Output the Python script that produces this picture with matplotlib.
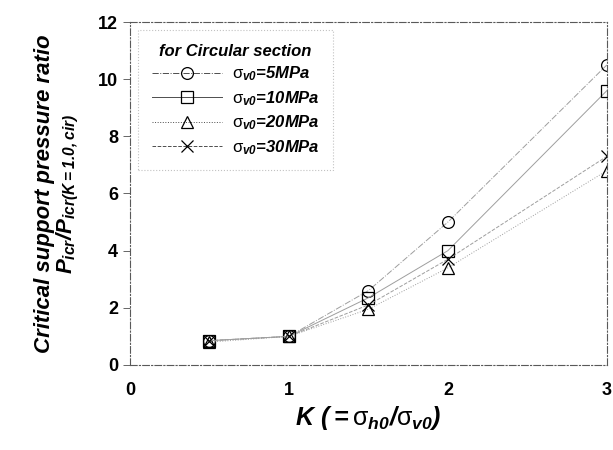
import matplotlib.pyplot as plt

plt.rcParams['font.family'] = ['Liberation Sans', 'DejaVu Sans']
plt.rcParams['mathtext.fontset'] = 'custom'
plt.rcParams['mathtext.rm'] = 'Liberation Sans:bold:italic'
plt.rcParams['mathtext.it'] = 'Liberation Sans:bold:italic'
plt.rcParams['mathtext.sf'] = 'Liberation Sans'

# data
k_values = [0.5, 1.0, 1.5, 2.0, 3.0]
ratio_5mpa = [0.85, 1.0, 2.6, 5.0, 10.5]
ratio_10mpa = [0.85, 1.0, 2.35, 4.0, 9.6]
ratio_20mpa = [0.8, 1.0, 1.95, 3.4, 6.8]
ratio_30mpa = [0.85, 1.0, 2.1, 3.7, 7.3]

series = [
    (ratio_5mpa, 'o', '-.', r'$\mathsf{\sigma}_{v0}$=5MPa'),
    (ratio_10mpa, 's', '-', r'$\mathsf{\sigma}_{v0}$=10MPa'),
    (ratio_20mpa, '^', ':', r'$\mathsf{\sigma}_{v0}$=20MPa'),
    (ratio_30mpa, 'x', '--', r'$\mathsf{\sigma}_{v0}$=30MPa'),
]

fig = plt.figure(figsize=(6.13, 4.5), dpi=100)
ax = fig.add_axes([0.212, 0.189, 0.778, 0.762])

for vals, mk, ls, lab in series:
    ax.plot(k_values, vals, linestyle=ls, color='0.62', lw=0.7,
            marker=mk, markersize=8.5, markerfacecolor='none',
            markeredgecolor='black', markeredgewidth=0.9, label=lab)

ax.set_xlim(0, 3)
ax.set_ylim(0, 12)
ax.set_xticks([0, 1, 2, 3])
ax.set_yticks([0, 2, 4, 6, 8, 10, 12])
ax.tick_params(axis='both', labelsize=13, direction='out', length=5, width=0.7, color='0.4')
ax.tick_params(axis='x', length=0, pad=12)
for lbl in ax.get_xticklabels() + ax.get_yticklabels():
    lbl.set_fontweight('bold')
for s in ax.spines.values():
    s.set_linewidth(0.8)
    s.set_color('0.35')
    s.set_linestyle((0, (6, 2, 1, 2)))

ax.set_xlabel(r'$K\ (= \mathsf{\sigma}_{h0}/\mathsf{\sigma}_{v0})$', fontsize=18, labelpad=4)
ax.set_ylabel('Critical support pressure ratio\n' + r'$P_{icr}/P_{icr(K=1.0,cir)}$',
              fontsize=16, fontweight='bold', fontstyle='italic', labelpad=12,
              linespacing=1.0)

leg = ax.legend(loc='upper left', title='for Circular section',
                prop={'size': 12, 'weight': 'bold', 'style': 'italic'},
                frameon=True, fancybox=False, edgecolor='0.7',
                handlelength=4.2, handletextpad=0.6, borderaxespad=0.5,
                labelspacing=0.35, borderpad=0.8)
leg.get_title().set_fontweight('bold')
leg.get_title().set_fontstyle('italic')
leg.get_title().set_fontsize(12)
leg.get_frame().set_linestyle(':')
leg.get_frame().set_linewidth(0.8)
for h in leg.get_lines():
    h.set_color('0.3')

fig.savefig('out.png', dpi=100)
